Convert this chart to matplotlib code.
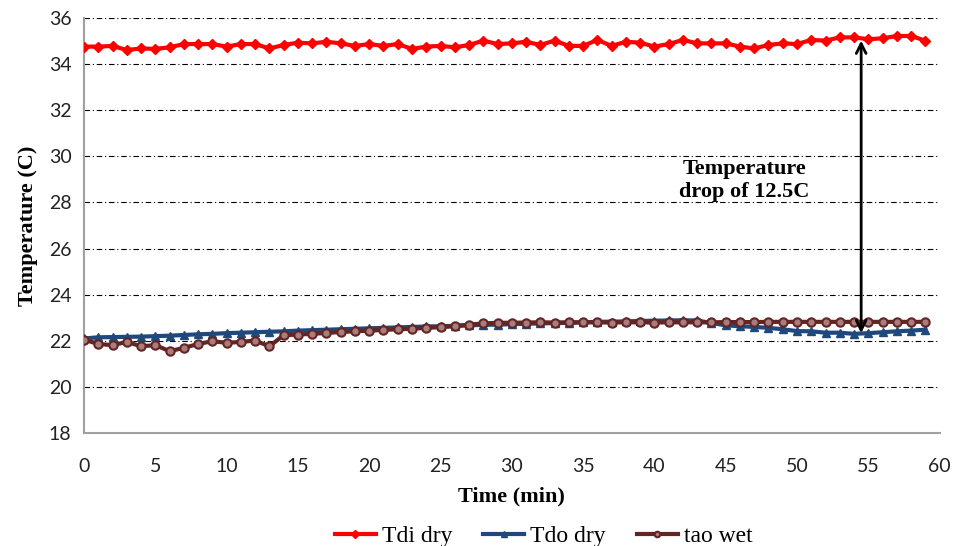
import matplotlib
matplotlib.use("Agg")
import matplotlib.pyplot as plt
import numpy as np

time_min = list(range(60))

tdi_dry = [34.76, 34.76, 34.79, 34.61, 34.68, 34.66, 34.73, 34.87, 34.87, 34.87,
           34.76, 34.87, 34.87, 34.68, 34.83, 34.93, 34.90, 34.97, 34.90, 34.79,
           34.87, 34.79, 34.87, 34.66, 34.76, 34.79, 34.73, 34.83, 35.02, 34.87,
           34.90, 34.97, 34.83, 35.02, 34.79, 34.79, 35.05, 34.79, 34.97, 34.93,
           34.76, 34.87, 35.05, 34.90, 34.90, 34.90, 34.76, 34.68, 34.83, 34.90,
           34.87, 35.05, 35.02, 35.16, 35.16, 35.08, 35.12, 35.22, 35.22, 35.02]

tdo_dry = [22.10, 22.15, 22.16, 22.17, 22.18, 22.20, 22.22, 22.25, 22.28, 22.30,
           22.33, 22.35, 22.37, 22.39, 22.41, 22.44, 22.46, 22.48, 22.50, 22.52,
           22.54, 22.56, 22.58, 22.60, 22.62, 22.63, 22.65, 22.67, 22.69, 22.70,
           22.72, 22.74, 22.75, 22.77, 22.78, 22.80, 22.82, 22.83, 22.84, 22.86,
           22.87, 22.88, 22.89, 22.88, 22.77, 22.67, 22.63, 22.60, 22.56, 22.50,
           22.42, 22.41, 22.35, 22.35, 22.30, 22.33, 22.37, 22.41, 22.44, 22.48]

tao_wet = [22.05, 21.86, 21.81, 21.95, 21.76, 21.81, 21.55, 21.69, 21.86, 21.98,
           21.91, 21.95, 22.01, 21.76, 22.24, 22.27, 22.30, 22.34, 22.38, 22.41,
           22.44, 22.47, 22.50, 22.52, 22.56, 22.59, 22.63, 22.70, 22.75, 22.78,
           22.78, 22.79, 22.80, 22.79, 22.80, 22.80, 22.80, 22.79, 22.80, 22.80,
           22.79, 22.80, 22.80, 22.80, 22.80, 22.81, 22.81, 22.81, 22.82, 22.82,
           22.82, 22.82, 22.82, 22.82, 22.82, 22.82, 22.82, 22.82, 22.82, 22.82]

x_ticks = list(range(0, 61, 5))
y_ticks = list(range(18, 37, 2))

fig = plt.figure(figsize=(9.57, 5.46), dpi=100)
ax = fig.add_axes([0.0878, 0.207, 0.894, 0.760])

ax.plot(time_min, tdi_dry, color="#FF0000", lw=3, marker="D", ms=5,
        mfc="#FF0000", mec="#FF0000", label="Tdi dry", zorder=3)
ax.plot(time_min, tdo_dry, color="#1F497D", lw=3, marker="^", ms=6,
        mfc="#1F497D", mec="#1F497D", label="Tdo dry", zorder=3)
ax.plot(time_min, tao_wet, color="#632523", lw=3, marker="o", ms=6,
        mfc="#A87D7B", mec="#632523", mew=1.5, label="tao wet", zorder=4)

ax.set_xlim(0, 60)
ax.set_ylim(18, 36)
ax.set_xticks(x_ticks)
ax.set_yticks(y_ticks)
for yv in y_ticks[1:]:
    ax.axhline(yv, color="black", lw=0.8, ls="-.", zorder=1, dashes=(5, 2.5, 1, 2.5))

for s in ["top", "right"]:
    ax.spines[s].set_visible(False)
for s in ["left", "bottom"]:
    ax.spines[s].set_color("#A0A0A0")
    ax.spines[s].set_linewidth(1.5)

ax.tick_params(axis="both", length=0, labelsize=14, colors="#222222")
ax.tick_params(axis="x", pad=18)
ax.tick_params(axis="y", pad=9)
for lab in ax.get_xticklabels() + ax.get_yticklabels():
    lab.set_family("Lato")

ax.set_xlabel("Time (min)", family="Liberation Serif", fontweight="bold", fontsize=16, labelpad=8)
ax.set_ylabel("Temperature (C)", family="Liberation Serif", fontweight="bold", fontsize=16, labelpad=8)

# annotation arrow
ax.annotate("", xy=(54.5, 35.02), xytext=(54.5, 22.33),
            arrowprops=dict(arrowstyle="<->,head_length=0.7,head_width=0.35",
                            color="black", lw=2, shrinkA=0, shrinkB=0), zorder=5)
ax.text(46.3, 28.95, "Temperature\ndrop of 12.5C", family="Liberation Serif",
        fontweight="bold", fontsize=16, ha="center", va="center", linespacing=1.15)

leg = fig.legend(loc="lower center", bbox_to_anchor=(0.568, -0.028), ncol=3, frameon=False,
                 prop={"family": "Liberation Serif", "size": 17}, handlelength=1.75,
                 columnspacing=1.3, handletextpad=0.25, borderpad=0.1)
for h in leg.legend_handles:
    h.set_markersize(4)

fig.savefig("out.png", dpi=100)
